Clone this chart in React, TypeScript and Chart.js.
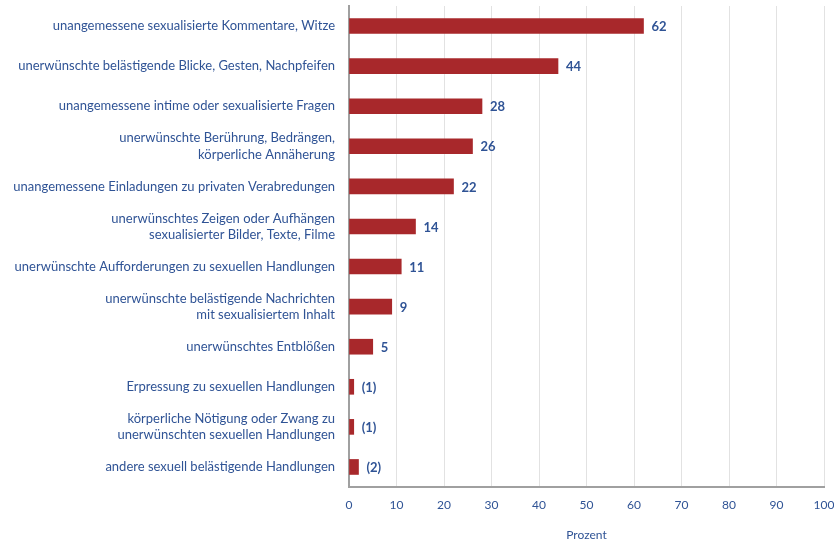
import React, { useEffect, useRef } from "react";
import { Chart, registerables } from "chart.js";

Chart.register(...registerables);

const categories: (string | string[])[] = [
  "unangemessene sexualisierte Kommentare, Witze",
  "unerwünschte belästigende Blicke, Gesten, Nachpfeifen",
  "unangemessene intime oder sexualisierte Fragen",
  ["unerwünschte Berührung, Bedrängen,", "körperliche Annäherung"],
  "unangemessene Einladungen zu privaten Verabredungen",
  ["unerwünschtes Zeigen oder Aufhängen", "sexualisierter Bilder, Texte, Filme"],
  "unerwünschte Aufforderungen zu sexuellen Handlungen",
  ["unerwünschte belästigende Nachrichten", "mit sexualisiertem Inhalt"],
  "unerwünschtes Entblößen",
  "Erpressung zu sexuellen Handlungen",
  ["körperliche Nötigung oder Zwang zu", "unerwünschten sexuellen Handlungen"],
  "andere sexuell belästigende Handlungen",
];

const values: number[] = [62, 44, 28, 26, 22, 14, 11, 9, 5, 1, 1, 2];
const valueLabels: string[] = ["62", "44", "28", "26", "22", "14", "11", "9", "5", "(1)", "(1)", "(2)"];
const xTicks: number[] = [0, 10, 20, 30, 40, 50, 60, 70, 80, 90, 100];

const BLUE = "#2f5395";
const RED = "#a8282b";
const FONT = "Lato, 'Open Sans', sans-serif";

const labelPlugin = {
  id: "valueLabels",
  afterDatasetsDraw(chart: any) {
    const ctx = chart.ctx;
    const meta = chart.getDatasetMeta(0);
    ctx.save();
    ctx.fillStyle = BLUE;
    ctx.font = `bold 13px ${FONT}`;
    ctx.textAlign = "left";
    ctx.textBaseline = "middle";
    meta.data.forEach((bar: any, i: number) => {
      ctx.fillText(valueLabels[i], bar.x + 8, bar.y + 1);
    });
    ctx.restore();
  },
};

export default function App() {
  const ref = useRef<HTMLCanvasElement | null>(null);
  useEffect(() => {
    if (!ref.current) return;
    const chart = new Chart(ref.current, {
      type: "bar",
      data: {
        labels: categories,
        datasets: [
          {
            data: values,
            backgroundColor: RED,
            borderWidth: 0,
            barThickness: 15,
          },
        ],
      },
      options: {
        indexAxis: "y",
        animation: false,
        responsive: false,
        maintainAspectRatio: false,
        layout: { padding: { top: 6, right: 10, left: 0, bottom: 0 } },
        plugins: {
          legend: { display: false },
          tooltip: { enabled: false },
        },
        scales: {
          x: {
            min: 0,
            max: 100,
            afterBuildTicks: (scale: any) => {
              scale.ticks = xTicks.map((v) => ({ value: v }));
            },
            afterFit: (scale: any) => {
              scale.height = 55;
              scale.paddingLeft = 0;
              scale.paddingRight = 0;
            },
            grid: { color: "#e2e2e2", lineWidth: 1, drawTicks: false },
            border: { color: "#a0a0a0", width: 2 },
            ticks: {
              color: BLUE,
              font: { family: FONT, size: 12 },
              padding: 11,
              maxRotation: 0,
            },
            title: {
              display: true,
              text: "Prozent",
              color: BLUE,
              font: { family: FONT, size: 12 },
              padding: { top: 10, bottom: 0 },
            },
          },
          y: {
            afterFit: (scale: any) => {
              scale.width = 349;
              scale.paddingTop = 0;
              scale.paddingBottom = 0;
            },
            grid: { display: false, drawTicks: false },
            border: { color: "#a0a0a0", width: 2 },
            ticks: {
              color: BLUE,
              font: { family: FONT, size: 13, lineHeight: 1.25 },
              padding: 14,
              autoSkip: false,
            },
          },
        },
      },
      plugins: [labelPlugin],
    });
    return () => chart.destroy();
  }, []);
  return (
    <div style={{ position: "fixed", left: 0, top: 0, width: 834, height: 542, background: "#fff" }}>
      <canvas ref={ref} width={834} height={542} style={{ width: 834, height: 542 }} />
    </div>
  );
}
